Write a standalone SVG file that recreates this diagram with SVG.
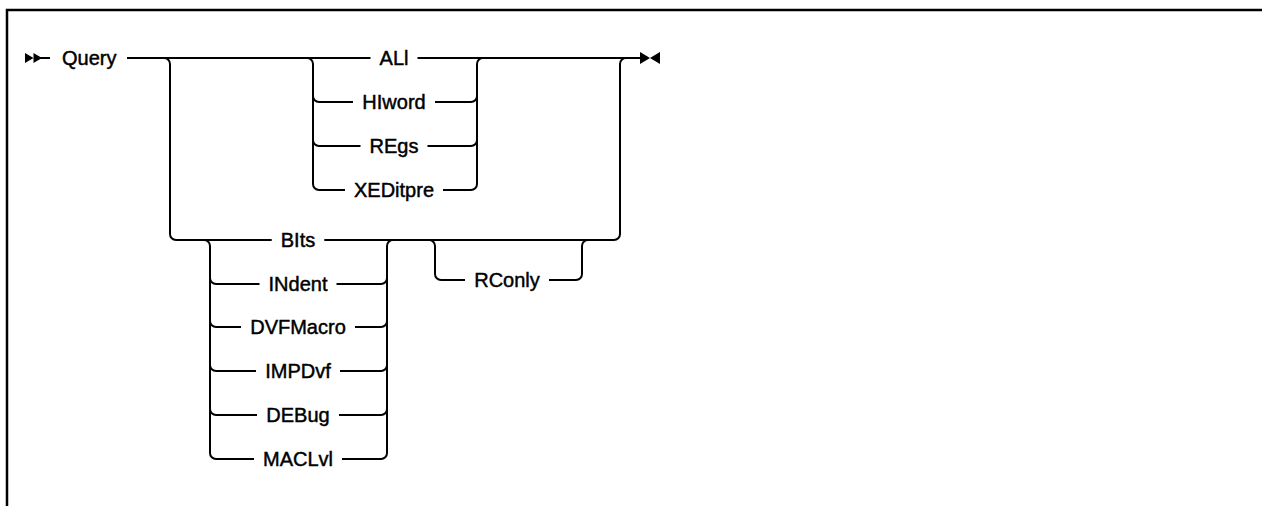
<svg xmlns="http://www.w3.org/2000/svg" width="1262" height="506" viewBox="0 0 1262 506">
<style>
.ln{fill:none;stroke:#000;stroke-width:2;stroke-linecap:butt}
.bd{fill:none;stroke:#000;stroke-width:2.5}
.mk{fill:#000;stroke:none}
.t{font-family:"Liberation Sans",Arial,sans-serif;font-size:20px;fill:#000;stroke:#000;stroke-width:0.45;text-anchor:middle}
.ts{font-family:"Liberation Sans",Arial,sans-serif;font-size:20px;fill:#000;stroke:#000;stroke-width:0.45;text-anchor:start}
</style>
<rect x="0" y="0" width="1262" height="506" fill="#fff"/>
<path class="bd" d="M7,506 V10 H1262"/>
<g id="start-marker">
<path class="mk" d="M25,53 L33.5,58 L25,63 Z"/>
<path class="mk" d="M33.5,53 L42,58 L33.5,63 Z"/>
</g>
<g id="end-marker">
<path class="mk" d="M640,52 L650,58 L640,64 Z"/>
<path class="mk" d="M660,52 L650,58 L660,64 Z"/>
</g>
<g id="connectors">
<path class="ln" d="M40,58 H50"/>
<path class="ln" d="M127,58 H370.5"/>
<path class="ln" d="M417.5,58 H641"/>
<path class="ln" d="M164,58 A6,6 0 0 1 170,64 V234 A6,6 0 0 0 176,240 H271.7"/>
<path class="ln" d="M324.3,240 H614 A6,6 0 0 0 620,234 V64 A6,6 0 0 1 626,58"/>
<path class="ln" d="M307,58 A6,6 0 0 1 313,64 V184 A6,6 0 0 0 319,190 H345"/>
<path class="ln" d="M313,96 A6,6 0 0 0 319,102 H353"/>
<path class="ln" d="M313,140 A6,6 0 0 0 319,146 H360.5"/>
<path class="ln" d="M435,102 H471 A6,6 0 0 0 477,96"/>
<path class="ln" d="M427.5,146 H471 A6,6 0 0 0 477,140"/>
<path class="ln" d="M443,190 H471 A6,6 0 0 0 477,184 V64 A6,6 0 0 1 483,58"/>
<path class="ln" d="M204,240 A6,6 0 0 1 210,246 V453 A6,6 0 0 0 216,459 H254"/>
<path class="ln" d="M210,278 A6,6 0 0 0 216,284 H259.5"/>
<path class="ln" d="M210,321 A6,6 0 0 0 216,327 H241"/>
<path class="ln" d="M210,365 A6,6 0 0 0 216,371 H256"/>
<path class="ln" d="M210,409 A6,6 0 0 0 216,415 H257"/>
<path class="ln" d="M336.5,284 H381 A6,6 0 0 0 387,278"/>
<path class="ln" d="M355,327 H381 A6,6 0 0 0 387,321"/>
<path class="ln" d="M340,371 H381 A6,6 0 0 0 387,365"/>
<path class="ln" d="M339,415 H381 A6,6 0 0 0 387,409"/>
<path class="ln" d="M342,459 H381 A6,6 0 0 0 387,453 V246 A6,6 0 0 1 393,240"/>
<path class="ln" d="M429,240 A6,6 0 0 1 435,246 V274 A6,6 0 0 0 441,280 H465"/>
<path class="ln" d="M549,280 H576 A6,6 0 0 0 582,274 V246 A6,6 0 0 1 588,240"/>
</g>
<g id="node-query"><text class="ts" x="62" y="65">Query</text></g>
<g id="node-all"><text class="t" x="394" y="65">ALl</text></g>
<g id="node-hiword"><text class="t" x="394" y="109">HIword</text></g>
<g id="node-regs"><text class="t" x="394" y="153">REgs</text></g>
<g id="node-xeditpre"><text class="t" x="394" y="197">XEDitpre</text></g>
<g id="node-bits"><text class="t" x="298" y="247">BIts</text></g>
<g id="node-indent"><text class="t" x="298" y="291">INdent</text></g>
<g id="node-dvfmacro"><text class="t" x="298" y="334">DVFMacro</text></g>
<g id="node-impdvf"><text class="t" x="298" y="378">IMPDvf</text></g>
<g id="node-debug"><text class="t" x="298" y="422">DEBug</text></g>
<g id="node-maclvl"><text class="t" x="298" y="466">MACLvl</text></g>
<g id="node-rconly"><text class="t" x="507" y="287">RConly</text></g>
</svg>
